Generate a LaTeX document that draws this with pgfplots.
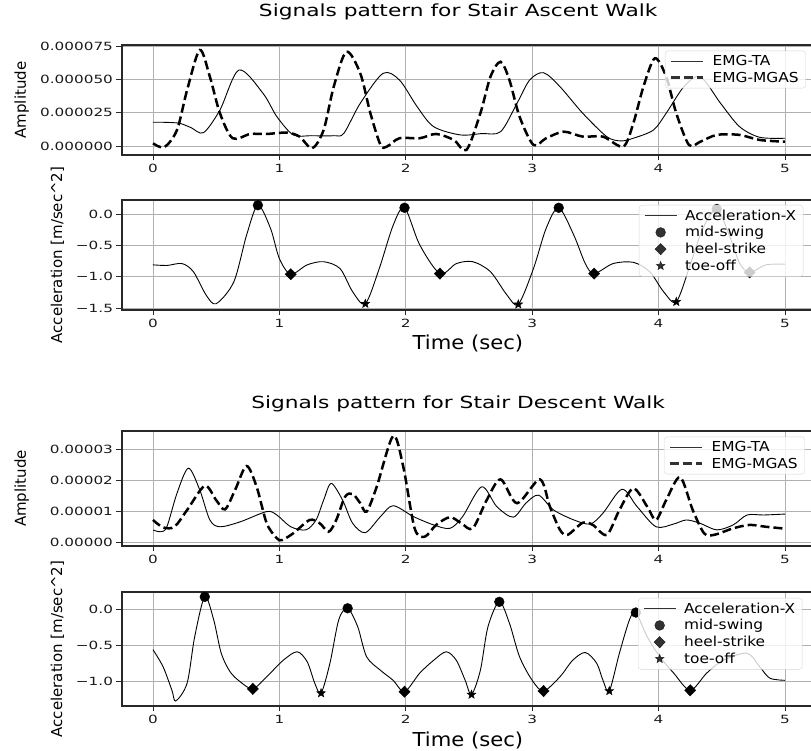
\documentclass[border=0pt]{standalone}
\usepackage{pgfplots}
\pgfplotsset{compat=1.18}
\usepackage{fontspec}
\setmainfont{DejaVu Sans}
\newfontfamily\tickfont[FakeStretch=1.35]{DejaVu Sans}
\newfontfamily\legfont[FakeStretch=1.12]{DejaVu Sans}
\newfontfamily\titlefont[FakeStretch=1.3]{DejaVu Sans}
\newfontfamily\xlabfont[FakeStretch=1.1]{DejaVu Sans}
\newfontfamily\ylabfont[FakeStretch=1.0]{DejaVu Sans}
\usetikzlibrary{plotmarks}

\definecolor{gridgray}{RGB}{176,176,176}
\definecolor{spine}{RGB}{40,40,40}
\definecolor{legedge}{RGB}{204,204,204}

% filled five-pointed star
\pgfdeclareplotmark{fstar}{%
  \pgfpathmoveto{\pgfqpointpolar{90}{\pgfplotmarksize}}%
  \pgfpathlineto{\pgfqpointpolar{126}{0.42\pgfplotmarksize}}%
  \pgfpathlineto{\pgfqpointpolar{162}{\pgfplotmarksize}}%
  \pgfpathlineto{\pgfqpointpolar{198}{0.42\pgfplotmarksize}}%
  \pgfpathlineto{\pgfqpointpolar{234}{\pgfplotmarksize}}%
  \pgfpathlineto{\pgfqpointpolar{270}{0.42\pgfplotmarksize}}%
  \pgfpathlineto{\pgfqpointpolar{306}{\pgfplotmarksize}}%
  \pgfpathlineto{\pgfqpointpolar{342}{0.42\pgfplotmarksize}}%
  \pgfpathlineto{\pgfqpointpolar{18}{\pgfplotmarksize}}%
  \pgfpathlineto{\pgfqpointpolar{54}{0.42\pgfplotmarksize}}%
  \pgfpathclose
  \pgfusepathqfillstroke}

\pgfplotsset{
  panel/.style={
    scale only axis, width=694.6pt,
    xmin=-0.245, xmax=5.25,
    xtick={0,1,2,3,4,5}, xticklabels={0,1,2,3,4,5},
    scaled y ticks=false,
    grid=major,
    major grid style={gridgray, line width=0.8pt},
    tick align=outside, tick pos=left,
    major tick length=5.5pt,
    axis line style={spine, line width=1.1pt},
    tick style={spine, line width=0.9pt},
    ticklabel style={font=\tickfont\fontsize{11.3}{13}\selectfont, text=black!90},
    ylabel style={font=\ylabfont\fontsize{15}{18}\selectfont, anchor=center},
    xlabel style={font=\xlabfont\fontsize{19.2}{22}\selectfont,
      at={(axis description cs:0.498,0)}, anchor=center, yshift=-33pt},
    title style={font=\titlefont\fontsize{16.7}{20}\selectfont,
      at={(axis description cs:0.484,1)}, anchor=base, yshift=22pt},
    legend cell align=left,
    legend style={anchor=north west, yshift=-5.7pt,
      font=\legfont\fontsize{13.75}{16.5}\selectfont,
      draw=legedge, rounded corners=3pt, fill=white,
      fill opacity=0.8, draw opacity=0.8, text opacity=1,
      inner xsep=5pt, inner ysep=2.5pt, row sep=0.8pt, column sep=6pt},
  },
  linelegend/.style={legend image code/.code={\draw[##1] (0pt,0pt) -- (32pt,0pt);}},
  marklegend/.style={legend image code/.code={\draw[##1] plot coordinates {(16pt,0pt)};}},
  ta/.style={black, line width=0.9pt, smooth, linelegend},
  mgas/.style={black, line width=2.5pt, dash pattern=on 9pt off 4pt, smooth, linelegend},
  acc/.style={black, line width=0.9pt, smooth, linelegend},
  swing/.style={only marks, mark=*, mark size=4.9pt, black, marklegend},
  heel/.style={only marks, mark=diamond*, mark size=5.7pt, mark options={xscale=1.3}, black, marklegend},
  toe/.style={only marks, mark=fstar, mark size=4.6pt, black, marklegend},
}

\begin{document}
\begin{tikzpicture}

% ---------------- Stair ascent: EMG ----------------
\begin{axis}[panel, at={(122pt,596pt)}, anchor=south west, height=110pt,
  ymin=-6.55e-6, ymax=75.85e-6,
  ytick={0,25e-6,50e-6,75e-6},
  yticklabels={0.000000,0.000025,0.000050,0.000075},
  ylabel={Amplitude},
  ylabel style={at={(axis description cs:-0.1444,0.5)}},
  title={Signals pattern for Stair Ascent Walk},
  legend style={at={(axis description cs:0.7817,1)}},
]
\addplot[ta] coordinates {
 (0,18.0e-6) (0.10,17.9e-6) (0.21,17.2e-6) (0.30,14.0e-6) (0.40,10.2e-6)
 (0.53,27.2e-6) (0.68,57.1e-6) (0.87,39.7e-6) (0.98,22.2e-6) (1.11,8.5e-6)
 (1.25,7.9e-6) (1.43,7.9e-6) (1.51,9.7e-6) (1.64,32.2e-6) (1.82,54.6e-6)
 (1.95,49.6e-6) (2.09,29.6e-6) (2.22,14.7e-6) (2.43,8.5e-6) (2.60,9.5e-6)
 (2.75,10.9e-6) (2.88,32.2e-6) (2.98,49.6e-6) (3.09,55.1e-6) (3.22,44.6e-6)
 (3.40,24.7e-6) (3.59,7.2e-6) (3.70,4.0e-6) (3.80,6.0e-6) (3.96,12.2e-6)
 (4.06,24.7e-6) (4.20,44.6e-6) (4.33,52.1e-6) (4.49,32.2e-6) (4.64,14.7e-6)
 (4.80,6.7e-6) (5.00,6.0e-6)};
\addlegendentry{EMG-TA}
\addplot[mgas] coordinates {
 (0,2.2e-6) (0.09,-0.7e-6) (0.19,12.2e-6) (0.27,42.1e-6) (0.37,72.1e-6)
 (0.45,52.1e-6) (0.53,24.7e-6) (0.63,6.0e-6) (0.77,9.2e-6) (0.90,9.2e-6)
 (1.06,10.2e-6) (1.16,7.2e-6) (1.26,-1.5e-6) (1.35,12.2e-6) (1.43,44.6e-6)
 (1.53,70.8e-6) (1.64,54.6e-6) (1.72,24.7e-6) (1.80,1.0e-6) (1.85,-0.3e-6)
 (1.95,6.0e-6) (2.11,6.0e-6) (2.24,9.2e-6) (2.38,4.7e-6) (2.48,-2.8e-6)
 (2.59,24.7e-6) (2.67,52.1e-6) (2.75,63.3e-6) (2.82,49.6e-6) (2.90,22.2e-6)
 (3.01,1.0e-6) (3.11,6.0e-6) (3.25,10.9e-6) (3.40,7.2e-6) (3.56,7.2e-6)
 (3.72,-0.3e-6) (3.80,17.2e-6) (3.88,44.6e-6) (3.97,65.9e-6) (4.06,52.1e-6)
 (4.14,24.7e-6) (4.24,1.0e-6) (4.33,3.4e-6) (4.46,8.5e-6) (4.64,8.5e-6)
 (4.80,4.7e-6) (5.00,3.4e-6)};
\addlegendentry{EMG-MGAS}
\end{axis}

% ---------------- Stair ascent: acceleration ----------------
\begin{axis}[panel, at={(122pt,441pt)}, anchor=south west, height=110pt,
  ymin=-1.53, ymax=0.224,
  ytick={-1.5,-1,-0.5,0},
  yticklabels={−1.5,−1.0,−0.5,0.0},
  ylabel={Acceleration [m/sec\^{}2]},
  ylabel style={at={(axis description cs:-0.0929,0.5)}},
  xlabel={Time (sec)},
  legend style={at={(axis description cs:0.7443,1)}, yshift=0.7pt},
]
\addplot[acc] coordinates {
 (0,-0.81) (0.11,-0.82) (0.23,-0.79) (0.32,-0.92) (0.42,-1.29) (0.50,-1.43)
 (0.64,-1.08) (0.74,-0.34) (0.83,0.14) (0.93,-0.23) (1.00,-0.71) (1.09,-0.96)
 (1.22,-0.81) (1.35,-0.76) (1.48,-0.87) (1.58,-1.24) (1.68,-1.43) (1.79,-0.87)
 (1.90,-0.18) (1.99,0.10) (2.11,-0.49) (2.27,-0.95) (2.40,-0.79) (2.53,-0.76)
 (2.67,-0.92) (2.80,-1.29) (2.89,-1.44) (3.01,-0.87) (3.11,-0.23) (3.21,0.10)
 (3.33,-0.34) (3.42,-0.79) (3.49,-0.95) (3.64,-0.79) (3.80,-0.77) (3.93,-0.92)
 (4.04,-1.24) (4.14,-1.40) (4.25,-0.81) (4.35,-0.23) (4.46,0.08) (4.56,-0.34)
 (4.64,-0.78) (4.72,-0.93) (4.85,-0.81) (5.00,-0.80)};
\addlegendentry{Acceleration-X}
\addplot[swing] coordinates {(0.83,0.14) (1.99,0.10) (3.21,0.10) (4.46,0.08)};
\addlegendentry{mid-swing}
\addplot[heel] coordinates {(1.09,-0.96) (2.27,-0.95) (3.49,-0.95) (4.72,-0.93)};
\addlegendentry{heel-strike}
\addplot[toe] coordinates {(1.68,-1.43) (2.89,-1.44) (4.14,-1.40)};
\addlegendentry{toe-off}
\end{axis}

% ---------------- Stair descent: EMG ----------------
\begin{axis}[panel, at={(122pt,205pt)}, anchor=south west, height=115pt,
  ymin=-1.2e-6, ymax=35.9e-6,
  ytick={0,10e-6,20e-6,30e-6},
  yticklabels={0.00000,0.00001,0.00002,0.00003},
  ylabel={Amplitude},
  ylabel style={at={(axis description cs:-0.1444,0.5)}},
  title={Signals pattern for Stair Descent Walk},
  title style={yshift=-6pt},
  legend style={at={(axis description cs:0.7803,1)}},
]
\addplot[ta] coordinates {
 (0,3.97e-6) (0.06,3.4e-6) (0.11,5.0e-6) (0.19,15.8e-6) (0.28,23.9e-6)
 (0.37,16.9e-6) (0.45,7.2e-6) (0.53,5.0e-6) (0.69,6.6e-6) (0.90,9.9e-6)
 (0.98,8.8e-6) (1.09,5.0e-6) (1.21,4.0e-6) (1.29,7.2e-6) (1.35,13.6e-6)
 (1.41,19.0e-6) (1.50,13.6e-6) (1.58,6.1e-6) (1.68,3.1e-6) (1.80,8.3e-6)
 (1.90,11.8e-6) (2.06,8.3e-6) (2.22,5.6e-6) (2.35,4.5e-6) (2.45,8.3e-6)
 (2.60,17.9e-6) (2.72,11.5e-6) (2.85,8.1e-6) (2.95,12.6e-6) (3.05,15.2e-6)
 (3.17,10.4e-6) (3.33,7.2e-6) (3.46,5.9e-6) (3.56,9.4e-6) (3.71,17.1e-6)
 (3.83,11.5e-6) (3.98,5.0e-6) (4.12,5.9e-6) (4.22,7.2e-6) (4.33,6.1e-6)
 (4.46,4.0e-6) (4.59,5.6e-6) (4.70,8.8e-6) (4.83,8.8e-6) (5.00,9.1e-6)};
\addlegendentry{EMG-TA}
\addplot[mgas] coordinates {
 (0,7.2e-6) (0.08,4.8e-6) (0.17,5.0e-6) (0.27,10.4e-6) (0.41,18.2e-6)
 (0.50,13.6e-6) (0.57,10.6e-6) (0.65,16.9e-6) (0.74,24.6e-6) (0.82,17.9e-6)
 (0.90,6.1e-6) (0.98,1.3e-6) (1.02,0.7e-6) (1.11,2.9e-6) (1.24,7.2e-6)
 (1.32,6.1e-6) (1.39,3.4e-6) (1.45,7.2e-6) (1.52,14.7e-6) (1.58,15.6e-6)
 (1.64,12.6e-6) (1.69,9.9e-6) (1.77,17.9e-6) (1.90,34.3e-6) (1.98,24.4e-6)
 (2.07,4.5e-6) (2.15,1.8e-6) (2.24,5.6e-6) (2.35,8.1e-6) (2.44,6.1e-6)
 (2.53,4.5e-6) (2.64,13.6e-6) (2.75,20.3e-6) (2.88,12.6e-6) (3.06,20.3e-6)
 (3.14,11.5e-6) (3.22,4.0e-6) (3.28,2.4e-6) (3.40,6.3e-6) (3.48,5.6e-6)
 (3.59,2.4e-6) (3.69,10.4e-6) (3.80,17.4e-6) (3.91,11.5e-6) (3.98,7.2e-6)
 (4.06,13.6e-6) (4.17,21.0e-6) (4.27,10.4e-6) (4.36,2.9e-6) (4.44,2.4e-6)
 (4.59,4.5e-6) (4.72,5.6e-6) (4.85,5.0e-6) (5.00,4.4e-6)};
\addlegendentry{EMG-MGAS}
\end{axis}

% ---------------- Stair descent: acceleration ----------------
\begin{axis}[panel, at={(122pt,45pt)}, anchor=south west, height=114pt,
  ymin=-1.35, ymax=0.248,
  ytick={-1,-0.5,0},
  yticklabels={−1.0,−0.5,0.0},
  ylabel={Acceleration [m/sec\^{}2]},
  ylabel style={at={(axis description cs:-0.0929,0.5)}},
  xlabel={Time (sec)},
  xlabel style={yshift=-1pt},
  legend style={at={(axis description cs:0.7429,1)}, yshift=-0.3pt},
]
\addplot[acc] coordinates {
 (0,-0.56) (0.08,-0.80) (0.15,-1.13) (0.18,-1.28) (0.27,-1.03) (0.33,-0.38)
 (0.41,0.18) (0.48,-0.14) (0.54,-0.61) (0.61,-0.87) (0.69,-1.01) (0.79,-1.11)
 (0.90,-0.94) (1.03,-0.71) (1.14,-0.59) (1.22,-0.73) (1.28,-1.03) (1.33,-1.17)
 (1.40,-0.75) (1.47,-0.14) (1.54,0.02) (1.62,-0.24) (1.69,-0.66) (1.80,-0.85)
 (1.90,-0.99) (1.99,-1.15) (2.11,-0.89) (2.22,-0.71) (2.32,-0.59) (2.40,-0.71)
 (2.47,-0.99) (2.52,-1.19) (2.59,-0.85) (2.65,-0.24) (2.74,0.11) (2.82,-0.19)
 (2.90,-0.66) (3.00,-0.99) (3.09,-1.14) (3.22,-0.94) (3.32,-0.71) (3.42,-0.60)
 (3.51,-0.75) (3.56,-0.99) (3.61,-1.14) (3.69,-0.61) (3.77,-0.14) (3.82,-0.04)
 (3.91,-0.38) (4.01,-0.66) (4.12,-0.89) (4.25,-1.13) (4.38,-0.89) (4.51,-0.71)
 (4.70,-0.61) (4.80,-0.80) (4.88,-0.96) (5.00,-0.99)};
\addlegendentry{Acceleration-X}
\addplot[swing] coordinates {(0.41,0.18) (1.54,0.02) (2.74,0.11) (3.82,-0.04)};
\addlegendentry{mid-swing}
\addplot[heel] coordinates {(0.79,-1.11) (1.99,-1.15) (3.09,-1.14) (4.25,-1.13)};
\addlegendentry{heel-strike}
\addplot[toe] coordinates {(1.33,-1.17) (2.52,-1.19) (3.61,-1.14)};
\addlegendentry{toe-off}
\end{axis}

\pgfresetboundingbox
\useasboundingbox (0pt,0pt) rectangle (811pt,751pt);
\end{tikzpicture}
\end{document}
